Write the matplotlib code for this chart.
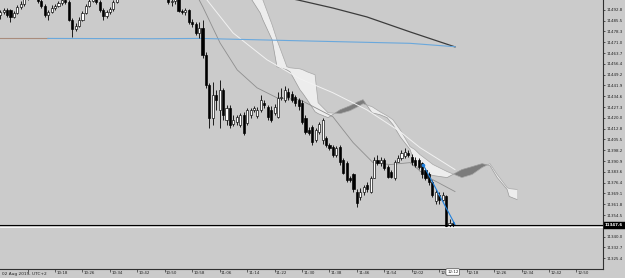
import matplotlib
matplotlib.use("Agg")
import matplotlib.pyplot as plt
from matplotlib.transforms import blended_transform_factory
import numpy as np

# ---------------- data ----------------
# bar time in minutes after 10:00 (1-minute bars)
minutes = list(range(2, 135))
opens = [
 11489.4, 11491.4, 11492.8, 11492.8, 11488.1, 11490.8, 11494.8, 11496.8, 11500.8,
 11504.9, 11506.2, 11502.2, 11498.8, 11495.5, 11489.4, 11491.4, 11494.1, 11495.5, 11497.5,
 11499.5, 11498.2, 11486.1, 11480.0, 11482.0, 11486.1, 11490.8, 11495.5, 11498.8, 11502.2,
 11498.2, 11492.8, 11488.7, 11491.4, 11493.5, 11498.2, 11502.9, 11506.2, 11507.6, 11504.9,
 11508.9, 11510.3, 11507.6, 11506.2, 11508.9, 11505.6, 11506.9, 11504.2, 11505.6, 11502.2,
 11503.5, 11498.2, 11498.8, 11500.8, 11492.1, 11491.4, 11492.8, 11484.7, 11483.4, 11477.3,
 11480.7, 11462.5, 11442.4, 11420.2, 11435.6, 11425.5, 11439.0, 11418.8, 11426.9, 11416.1,
 11417.5, 11415.5, 11422.2, 11416.8, 11422.2, 11425.5, 11421.5, 11425.5, 11430.3, 11427.6,
 11425.5, 11423.5, 11420.8, 11433.6, 11432.3, 11437.6, 11436.3, 11434.3, 11432.3, 11430.3,
 11420.2, 11412.1, 11414.1, 11405.4, 11410.8, 11405.4, 11406.7, 11402.0, 11400.7, 11395.3,
 11400.7, 11391.9, 11389.9, 11379.8, 11381.9, 11370.4, 11366.4, 11369.8, 11375.1, 11370.4,
 11379.8, 11391.9, 11389.9, 11391.9, 11387.2, 11383.9, 11379.8, 11390.6, 11393.3, 11394.6,
 11396.6, 11394.0, 11391.9, 11391.9, 11389.9, 11385.2, 11381.9, 11377.1, 11363.7, 11368.4,
 11365.0, 11367.1, 11347.6, 11348.9]
highs = [
 11492.8, 11494.1, 11494.1, 11493.5, 11492.1, 11496.1, 11498.8, 11503.5, 11507.6,
 11509.6, 11508.9, 11504.9, 11500.8, 11496.8, 11492.8, 11496.1, 11496.8, 11498.8, 11501.5,
 11502.2, 11499.5, 11487.4, 11484.0, 11488.1, 11492.1, 11496.8, 11500.8, 11504.2, 11503.5,
 11499.5, 11494.1, 11492.8, 11494.8, 11499.5, 11504.9, 11508.9, 11511.6, 11510.3, 11511.6,
 11514.3, 11512.9, 11509.6, 11511.6, 11510.9, 11508.9, 11509.6, 11507.6, 11507.6, 11506.2,
 11504.9, 11501.5, 11502.9, 11502.2, 11493.5, 11494.1, 11493.5, 11486.7, 11484.7, 11484.7,
 11486.1, 11464.5, 11443.7, 11444.4, 11439.0, 11445.7, 11440.3, 11428.9, 11428.9, 11422.2,
 11422.2, 11423.5, 11424.2, 11426.9, 11426.9, 11428.2, 11427.6, 11435.6, 11432.3, 11428.9,
 11428.2, 11429.6, 11437.6, 11440.3, 11441.7, 11440.3, 11438.3, 11435.6, 11433.6, 11432.3,
 11422.2, 11414.1, 11415.5, 11413.4, 11417.5, 11420.2, 11408.1, 11403.4, 11402.0, 11401.3,
 11402.0, 11393.3, 11391.3, 11381.2, 11383.2, 11371.8, 11373.1, 11375.1, 11376.5, 11381.2,
 11394.0, 11395.3, 11394.0, 11393.3, 11388.6, 11385.2, 11391.9, 11395.3, 11398.7, 11400.0,
 11398.7, 11396.0, 11394.0, 11393.3, 11390.6, 11386.6, 11383.9, 11378.5, 11371.8, 11370.4,
 11370.4, 11368.4, 11351.6, 11350.3]
lows = [
 11486.7, 11490.1, 11488.1, 11484.7, 11487.4, 11490.1, 11493.5, 11495.5, 11499.5,
 11502.2, 11500.8, 11497.5, 11494.1, 11488.1, 11486.1, 11490.8, 11492.8, 11494.8, 11496.1,
 11496.8, 11485.4, 11474.6, 11478.7, 11481.3, 11485.4, 11490.1, 11494.8, 11498.2, 11496.8,
 11491.4, 11486.1, 11487.4, 11490.1, 11492.1, 11497.5, 11501.5, 11503.5, 11502.9, 11503.5,
 11506.2, 11504.9, 11503.5, 11504.2, 11502.9, 11502.2, 11501.5, 11501.5, 11500.8, 11500.2,
 11496.8, 11495.5, 11496.8, 11491.4, 11490.1, 11489.4, 11483.4, 11481.3, 11476.0, 11474.0,
 11460.5, 11440.3, 11413.4, 11415.5, 11425.5, 11413.4, 11418.8, 11415.5, 11413.4, 11414.8,
 11415.5, 11414.1, 11408.7, 11415.5, 11420.2, 11424.2, 11420.2, 11424.2, 11426.9, 11418.8,
 11417.5, 11422.2, 11420.2, 11432.3, 11430.9, 11432.3, 11430.9, 11428.2, 11425.5, 11416.1,
 11409.4, 11408.7, 11402.0, 11404.0, 11409.4, 11402.7, 11400.7, 11398.7, 11394.0, 11394.0,
 11388.6, 11381.9, 11377.1, 11376.5, 11370.4, 11359.7, 11365.0, 11368.4, 11370.4, 11369.1,
 11379.2, 11388.6, 11387.9, 11385.2, 11379.2, 11379.2, 11378.5, 11390.6, 11391.9, 11393.3,
 11394.0, 11388.6, 11387.2, 11385.9, 11379.8, 11378.5, 11375.1, 11366.4, 11361.7, 11361.7,
 11363.7, 11346.2, 11346.2, 11346.2]
closes = [
 11491.4, 11492.8, 11489.4, 11488.1, 11490.8, 11494.8, 11496.8, 11500.8, 11504.9,
 11506.2, 11502.2, 11498.8, 11495.5, 11489.4, 11491.4, 11494.1, 11495.5, 11497.5, 11499.5,
 11498.2, 11486.1, 11480.0, 11482.0, 11486.1, 11490.8, 11495.5, 11498.8, 11502.2, 11498.2,
 11492.8, 11488.7, 11491.4, 11493.5, 11498.2, 11502.9, 11506.2, 11507.6, 11504.9, 11508.9,
 11510.3, 11507.6, 11506.2, 11508.9, 11505.6, 11506.9, 11504.2, 11505.6, 11502.2, 11503.5,
 11498.2, 11498.8, 11500.8, 11492.1, 11491.4, 11492.8, 11484.7, 11483.4, 11477.3, 11480.7,
 11462.5, 11442.4, 11420.2, 11435.6, 11432.3, 11439.0, 11422.2, 11426.9, 11415.5, 11418.8,
 11420.8, 11422.2, 11410.1, 11425.5, 11425.5, 11426.9, 11425.5, 11432.3, 11428.9, 11420.8,
 11418.8, 11427.6, 11433.6, 11434.3, 11439.0, 11434.3, 11432.3, 11430.3, 11428.2, 11417.5,
 11410.8, 11410.1, 11404.0, 11412.1, 11416.1, 11418.8, 11402.0, 11400.0, 11395.3, 11400.0,
 11390.6, 11383.2, 11378.5, 11378.5, 11371.8, 11363.0, 11370.4, 11373.8, 11371.8, 11379.8,
 11391.9, 11389.9, 11391.9, 11386.6, 11380.5, 11380.5, 11390.6, 11393.3, 11396.6, 11397.3,
 11395.3, 11390.6, 11388.6, 11387.2, 11381.9, 11379.8, 11377.1, 11368.4, 11370.4, 11365.0,
 11368.4, 11346.9, 11348.9, 11347.6]

# slow moving average (dark)
ma_slow_t = [80, 88.8, 99.0, 108.9, 121.5, 134.6]
ma_slow_v = [11503.5, 11499.5, 11494.1, 11488.1, 11478.0, 11467.9]
# medium moving average (white)
ma_mid_t = [57.3, 62.3, 69.9, 79.8, 89.4, 99.0, 108.9, 118.6, 124.4, 134.6]
ma_mid_v = [11507.6, 11499.5, 11477.3, 11459.2, 11446.4, 11437.0, 11425.5, 11410.8, 11400.0, 11385.2]
# fast moving average (grey)
ma_fast_t = [58.8, 61.1, 66.1, 71.1, 76.9, 82.7, 89.4, 99.0, 104.9, 110.7, 115.7, 121.5, 126.4, 134.6]
ma_fast_v = [11504.9, 11494.8, 11470.6, 11452.4, 11440.3, 11433.6, 11432.3, 11420.8, 11403.4,
             11389.9, 11388.6, 11389.9, 11380.5, 11370.4]
# horizontal level line (brown start, then blue)
level_t = [1.95, 15.9, 45.7, 60.3, 89.4, 121.5, 134.6]
level_v = [11473.6, 11473.6, 11473.4, 11473.6, 11472.0, 11470.3, 11468.0]

# Ichimoku cloud spans
cloud_t = [74.3, 75.4, 77.8, 78.6, 81.3, 82.7, 85.6, 86.5, 89.4, 90.3, 91.5, 93.8, 94.7, 97.6,
           101.1, 104.0, 106.3, 107.8, 110.4, 112.7, 114.8, 116.5, 118.6, 121.5, 122.9, 124.4,
           128.2, 132.3, 136.6, 139.6, 142.5, 144.8, 146.9, 149.8, 150.4, 152.7]
span_a = [11502.9, 11499.5, 11490.8, 11486.1, 11472.6, 11454.5, 11452.4, 11451.1, 11439.0, 11436.3,
          11432.3, 11424.2, 11422.9, 11420.2, 11425.5, 11428.2, 11430.9, 11432.3, 11423.5, 11422.2,
          11420.2, 11415.5, 11407.4, 11398.7, 11389.9, 11383.9, 11381.2, 11379.8, 11385.2, 11387.2,
          11389.2, 11387.9, 11379.8, 11371.8, 11367.1, 11365.0]
span_b = [11507.6, 11504.9, 11500.8, 11499.5, 11482.7, 11472.6, 11454.5, 11453.8, 11453.1, 11452.4,
          11451.1, 11449.1, 11430.3, 11423.5, 11422.9, 11424.9, 11427.6, 11429.6, 11427.6, 11424.2,
          11421.5, 11418.8, 11412.1, 11400.7, 11398.7, 11395.3, 11388.6, 11383.9, 11379.8, 11381.9,
          11386.6, 11389.2, 11381.9, 11373.1, 11372.4, 11371.8]

# trend line drawn by user
trend_t = [125.3, 134.6]
trend_v = [11388.6, 11348.2]

bid_price = 11347.6
price_ticks = [11492.8, 11485.5, 11478.3, 11471.0, 11463.7, 11456.4, 11449.2, 11441.9, 11434.6,
               11427.3, 11420.0, 11412.8, 11405.5, 11398.2, 11390.9, 11383.6, 11376.4, 11369.1,
               11361.8, 11354.5, 11340.0, 11332.7, 11325.4]
time_tick_min = [10, 18, 26, 34, 42, 50, 58, 66, 74, 82, 90, 98, 106, 114, 122, 130, 138, 146, 154, 162, 170]
time_labels = ["", "10:18", "10:26", "10:34", "10:42", "10:50", "10:58", "11:06", "11:14", "11:22",
               "11:30", "11:38", "11:46", "11:54", "12:02", "12:10", "12:18", "12:26", "12:34",
               "12:42", "12:50"]
date_label = "02 Aug 2019, UTC+2"
cursor_label = "12:12"
cursor_min = 132

# ---------------- figure ----------------
W, H = 625, 278
BG = '#cbcbcb'
FS = 2.9
plt.rcParams['font.family'] = ['DejaVu Sans']
fig = plt.figure(figsize=(W / 100, H / 100), dpi=100)
fig.patch.set_facecolor(BG)
ax = fig.add_axes([0, 9 / H, 603 / W, 269 / H])
ax.set_facecolor(BG)
ax.set_xlim(1.95, 177.75)
ax.set_ylim(11318.2, 11499.5)

for s in ['top', 'left']:
    ax.spines[s].set_visible(False)
for s in ['right', 'bottom']:
    ax.spines[s].set_color('#303030')
    ax.spines[s].set_linewidth(0.8)

# cloud
ct = np.array(cloud_t); sa = np.array(span_a); sb = np.array(span_b)
ax.fill_between(ct, sa, sb, where=sb >= sa, interpolate=True, color='#ededed', lw=0, zorder=1)
ax.fill_between(ct, sa, sb, where=sa > sb, interpolate=True, color='#7c7c7c', lw=0, zorder=1)
ax.plot(ct, sa, color='#9a9a9a', lw=0.5, zorder=1.2)
ax.plot(ct, sb, color='#a8a8a8', lw=0.5, zorder=1.2)

# moving averages and level
ax.plot(ma_fast_t, ma_fast_v, color='#8e8e8e', lw=0.6, zorder=2)
ax.plot(ma_mid_t, ma_mid_v, color='#f2f2f2', lw=0.7, zorder=2)
ax.plot(ma_slow_t, ma_slow_v, color='#3c3c3c', lw=0.9, zorder=2)
ax.plot(level_t[:2], level_v[:2], color='#a98c7c', lw=0.8, zorder=2)
ax.plot(level_t[1:], level_v[1:], color='#6aa8dc', lw=0.8, zorder=2)

# candles
t = np.array(minutes, dtype=float)
o = np.array(opens); h = np.array(highs); l = np.array(lows); c = np.array(closes)
up = c >= o
ax.vlines(t, l, h, color='black', lw=0.6, zorder=3)
body = np.maximum(np.abs(c - o), 0.35)
ax.bar(t[up], body[up], bottom=np.minimum(o, c)[up], width=0.62, color='white',
       edgecolor='black', lw=0.45, zorder=4)
ax.bar(t[~up], body[~up], bottom=np.minimum(o, c)[~up], width=0.62, color='black',
       edgecolor='black', lw=0.45, zorder=4)

# trend line with arrow
ax.plot(trend_t, trend_v, color='#2080dc', lw=0.8, zorder=5)
ax.plot(trend_t[0], trend_v[0], marker='o', ms=1.6, color='#2080dc', zorder=5)
ax.annotate('', xy=(trend_t[1], trend_v[1]), xytext=(trend_t[0], trend_v[0]),
            arrowprops=dict(arrowstyle='-|>', color='#2080dc', lw=0.0,
                            mutation_scale=4, shrinkA=0, shrinkB=0), zorder=5)

# bid line
ax.axhline(bid_price, color='black', lw=0.8, zorder=6)
ax.axhline(bid_price - 1.0, color='white', lw=0.6, zorder=6)

# axes ticks
ax.yaxis.tick_right()
ax.set_yticks(price_ticks)
ax.set_yticklabels([f"{v:.1f}" for v in price_ticks])
ax.tick_params(axis='y', direction='out', length=1.5, width=0.5, pad=0.8,
               labelsize=FS, colors='#202020')
ax.set_xticks(time_tick_min)
ax.set_xticklabels([])
ax.tick_params(axis='x', direction='out', length=2, width=0.5, colors='#303030')

tb = blended_transform_factory(ax.transData, fig.transFigure)
for m, lab in zip(time_tick_min, time_labels):
    if lab:
        ax.text(m + 0.35, 4.5 / H, lab, transform=tb, ha='left', va='center',
                fontsize=FS, color='#202020', clip_on=False)
fig.text(2 / W, 4.5 / H, date_label, ha='left', va='center', fontsize=FS + 0.2, color='#202020')

# current bid label
tp = blended_transform_factory(fig.transFigure, ax.transData)
fig.text(605 / W, bid_price, f"{bid_price:.1f}", transform=tp, ha='left', va='center',
         fontsize=FS, color='white', fontweight='bold',
         bbox=dict(boxstyle='square,pad=0.35', fc='black', ec='black', lw=0.3))

# cursor time label
ax.text(cursor_min + 0.3, 6 / H, cursor_label, transform=tb, ha='left', va='center',
        fontsize=FS, color='#202020', clip_on=False, zorder=10,
        bbox=dict(boxstyle='round,pad=0.3', fc='white', ec='#303030', lw=0.4))

fig.savefig('out.png', dpi=100, facecolor=BG)
